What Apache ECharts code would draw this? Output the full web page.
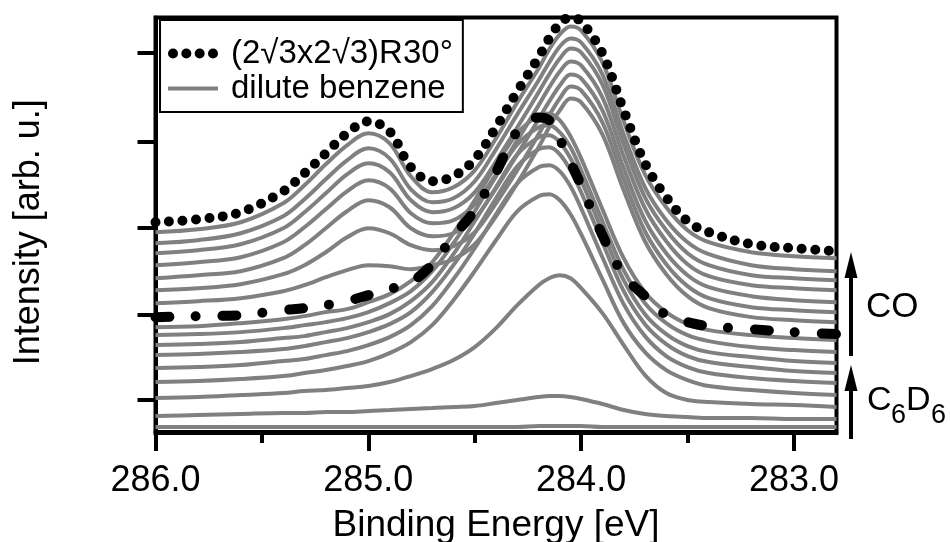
<!DOCTYPE html>
<html><head><meta charset="utf-8">
<script src="https://cdn.jsdelivr.net/npm/echarts@6/dist/echarts.min.js"></script>
<style>html,body{margin:0;padding:0;background:#fff}#c{width:950px;height:542px}</style>
</head><body><div id="c"></div>
<script>
// Binding energies (eV) shared by every spectrum
const energy = [286.0, 285.8, 285.6, 285.4, 285.3, 285.2, 285.1, 285.0, 284.9, 284.8, 284.7, 284.6, 284.5, 284.4, 284.3, 284.2, 284.15, 284.1, 284.05, 284.0, 283.9, 283.8, 283.7, 283.6, 283.5, 283.4, 283.2, 283.0, 282.8];
const xMajorTicks = [286.0, 285.0, 284.0, 283.0];
const xMinorTicks = [285.5, 284.5, 283.5];
const yTicks = [32, 117, 204, 291, 380];

// (2√3x2√3)R30° reference (dotted)
const phaseR30 = [210, 213, 220, 241, 259, 279, 299, 311, 301, 265, 251, 256, 273, 305, 341, 375, 394, 409, 415, 411, 379, 322, 269, 235, 211, 200, 188, 184, 181];
// dash-dot reference curve
const dashDotRef = [115, 116, 117, 122, 124, 127, 131, 137, 143, 150, 168, 196, 222, 260, 301, 315, 312, 293, 270, 247, 197, 157, 136, 117, 110, 106, 103, 100, 98];
// dilute benzene series (bottom to top)
const dil0  = [5, 5, 5, 5, 5, 5, 5, 5, 5, 5, 5, 5, 5, 5, 5, 6, 6, 6, 6, 6, 5, 5, 5, 5, 5, 5, 5, 5, 5];
const dil1  = [16, 17, 18, 19, 19, 20, 20, 21, 22, 23, 24, 25, 26, 29, 32, 35, 36, 36, 35, 33, 28, 22, 18, 16, 15, 14, 14, 13, 13];
const dil2  = [34, 35, 37, 39, 41, 42, 44, 46, 50, 56, 63, 72, 85, 104, 127, 147, 154, 157, 154, 144, 119, 87, 57, 39, 32, 30, 28, 27, 25];
const dil3  = [50, 51, 53, 56, 59, 62, 66, 71, 79, 90, 107, 132, 161, 192, 221, 236, 238, 232, 218, 198, 153, 109, 80, 62, 52, 46, 42, 39, 37];
const dil4  = [64, 65, 67, 71, 73, 77, 81, 87, 95, 107, 126, 153, 184, 218, 249, 265, 267, 261, 246, 224, 175, 128, 96, 76, 65, 59, 54, 51, 49];
const dil5  = [77, 78, 80, 83, 86, 90, 94, 100, 108, 120, 140, 167, 199, 234, 266, 283, 285, 278, 262, 240, 190, 141, 108, 88, 76, 70, 65, 61, 59];
const dil6  = [87, 88, 90, 94, 96, 100, 104, 110, 118, 131, 150, 178, 211, 245, 278, 295, 297, 290, 274, 252, 201, 152, 118, 98, 86, 80, 75, 71, 69];
const dil7  = [97, 98, 100, 104, 107, 110, 114, 120, 129, 141, 161, 189, 221, 256, 288, 305, 307, 300, 285, 262, 211, 162, 129, 109, 97, 91, 85, 82, 80];
const dil8  = [105, 106, 109, 113, 116, 120, 123, 130, 138, 151, 170, 199, 232, 267, 299, 317, 319, 312, 296, 274, 223, 174, 140, 120, 108, 102, 97, 94, 92];
const dil9  = [129, 131, 134, 141, 147, 155, 162, 167, 166, 163, 167, 173, 188, 216, 249, 285, 305, 322, 334, 330, 298, 242, 191, 158, 136, 124, 115, 112, 110];
const dil10 = [142, 144, 148, 158, 167, 180, 195, 204, 199, 187, 182, 186, 200, 229, 262, 298, 317, 334, 346, 342, 310, 253, 201, 168, 146, 134, 125, 122, 120];
const dil11 = [154, 157, 161, 174, 187, 204, 221, 232, 225, 204, 196, 199, 214, 244, 278, 313, 331, 347, 358, 354, 322, 264, 212, 179, 157, 145, 136, 132, 130];
const dil12 = [167, 170, 175, 190, 205, 223, 241, 252, 244, 219, 209, 212, 228, 258, 292, 327, 345, 361, 371, 367, 335, 276, 224, 191, 168, 156, 147, 144, 142];
const dil13 = [179, 182, 188, 204, 220, 239, 258, 269, 260, 232, 220, 224, 240, 271, 305, 340, 358, 374, 384, 380, 348, 288, 235, 202, 179, 167, 157, 154, 152];
const dil14 = [189, 192, 199, 216, 233, 253, 272, 284, 274, 243, 230, 234, 251, 283, 318, 352, 370, 386, 394, 390, 358, 298, 245, 212, 190, 178, 167, 163, 161];
const dil15 = [200, 203, 210, 229, 247, 268, 287, 299, 289, 256, 240, 245, 262, 294, 330, 364, 383, 398, 406, 402, 370, 311, 258, 225, 202, 190, 180, 176, 174];

const diluteSet = [dil0, dil1, dil2, dil3, dil4, dil5, dil6, dil7, dil8, dil9, dil10, dil11, dil12, dil13, dil14, dil15];

const GRAY = '#808080';
const FONT = '"Liberation Sans", Arial, Helvetica, sans-serif';
const R30 = '(2√3x2√3)R30°';
const DIL = 'dilute benzene';
const pairs = arr => energy.map((e, i) => [e, arr[i]]);

const series = diluteSet.map(a => ({
  name: DIL, type: 'line', data: pairs(a), symbol: 'none', smooth: 0.35,
  lineStyle: { color: GRAY, width: 4 }, itemStyle: { color: GRAY },
  silent: true, animation: false
}));
series.push({
  name: 'reference', type: 'line', data: pairs(dashDotRef), symbol: 'none', smooth: 0.35,
  lineStyle: { color: '#000', width: 10, type: [14, 26, 0, 27], cap: 'round' },
  itemStyle: { color: '#000' }, silent: true, animation: false
});
series.push({
  name: R30, type: 'line', data: pairs(phaseR30), symbol: 'none', smooth: 0.35, clip: false,
  lineStyle: { color: '#000', width: 10, type: [0, 13.5], cap: 'round' },
  itemStyle: { color: '#000' }, silent: true, animation: false
});

const DOT_ICON = 'path://M0,5a5,5 0 1,0 10,0a5,5 0 1,0 -10,0zM13.33,5a5,5 0 1,0 10,0a5,5 0 1,0 -10,0zM26.67,5a5,5 0 1,0 10,0a5,5 0 1,0 -10,0zM40,5a5,5 0 1,0 10,0a5,5 0 1,0 -10,0z';
const LINE_ICON = 'path://M0,0h0.01v0.01h-0.01zM0,3h50v4h-50zM0,9.99h0.01v0.01h-0.01z';

const chart = echarts.init(document.getElementById('c'), null, { renderer: 'canvas' });
chart.setOption({
  animation: false,
  backgroundColor: '#fff',
  textStyle: { fontFamily: FONT, color: '#000' },
  grid: { left: 155.5, right: 113.5, top: 17.5, bottom: 109, show: true, borderColor: '#000', borderWidth: 4, backgroundColor: 'transparent', containLabel: false, outerBoundsMode: 'none' },
  xAxis: [{
    type: 'value', inverse: true, min: 282.8, max: 286.0, position: 'bottom',
    axisLine: { show: true, lineStyle: { color: '#000', width: 4 } },
    axisTick: { show: true, length: 19, lineStyle: { color: '#000', width: 4 }, customValues: xMajorTicks },
    axisLabel: { show: true, customValues: xMajorTicks, formatter: v => v.toFixed(1), fontSize: 36, fontFamily: FONT, color: '#000', margin: 30 },
    splitLine: { show: false },
    name: 'Binding Energy [eV]', nameLocation: 'middle', nameGap: 74,
    nameTextStyle: { fontSize: 37, fontFamily: FONT, color: '#000' }
  }, {
    type: 'value', inverse: true, min: 282.8, max: 286.0, position: 'bottom',
    axisLine: { show: false },
    axisTick: { show: true, length: 10, lineStyle: { color: '#000', width: 4 }, customValues: xMinorTicks },
    axisLabel: { show: false }, splitLine: { show: false }
  }],
  yAxis: {
    type: 'value', min: -1, max: 415,
    axisLine: { show: true, lineStyle: { color: '#000', width: 4 } },
    axisTick: { show: true, length: 18, lineStyle: { color: '#000', width: 4 }, customValues: yTicks },
    axisLabel: { show: false }, splitLine: { show: false },
    name: 'Intensity [arb. u.]', nameLocation: 'middle', nameGap: 108,
    nameTextStyle: { fontSize: 36, fontFamily: FONT, color: '#000', padding: [0, 14, 0, 0] }
  },
  legend: {
    orient: 'vertical', left: 160, top: 20,
    data: [{ name: R30, icon: DOT_ICON }, { name: DIL, icon: LINE_ICON }],
    itemWidth: 50, itemHeight: 10, itemGap: 2,
    padding: [17, 10, 7, 8],
    backgroundColor: '#fff', borderColor: '#000', borderWidth: 2, borderRadius: 0,
    itemStyle: { borderWidth: 0 },
    textStyle: { fontSize: 33, fontFamily: FONT, color: '#000', padding: [0, 0, 0, 8] },
    selectedMode: false
  },
  graphic: [
    { type: 'line', shape: { x1: 851, y1: 356, x2: 851, y2: 272 }, style: { stroke: '#000', lineWidth: 4 } },
    { type: 'polygon', shape: { points: [[851, 252], [844.5, 278], [857.5, 278]] }, style: { fill: '#000' } },
    { type: 'line', shape: { x1: 851, y1: 439, x2: 851, y2: 385 }, style: { stroke: '#000', lineWidth: 4 } },
    { type: 'polygon', shape: { points: [[851, 365], [844.5, 391], [857.5, 391]] }, style: { fill: '#000' } },
    { type: 'text', x: 866, y: 307, style: { text: 'CO', fontSize: 35, fontFamily: FONT, fill: '#000', verticalAlign: 'middle' } },
    { type: 'text', x: 867, y: 401, style: { text: 'C', fontSize: 34, fontFamily: FONT, fill: '#000', verticalAlign: 'middle' } },
    { type: 'text', x: 891, y: 416, style: { text: '6', fontSize: 27, fontFamily: FONT, fill: '#000', verticalAlign: 'middle' } },
    { type: 'text', x: 906, y: 401, style: { text: 'D', fontSize: 34, fontFamily: FONT, fill: '#000', verticalAlign: 'middle' } },
    { type: 'text', x: 931, y: 416, style: { text: '6', fontSize: 27, fontFamily: FONT, fill: '#000', verticalAlign: 'middle' } }
  ],
  series: series
});
</script></body></html>
